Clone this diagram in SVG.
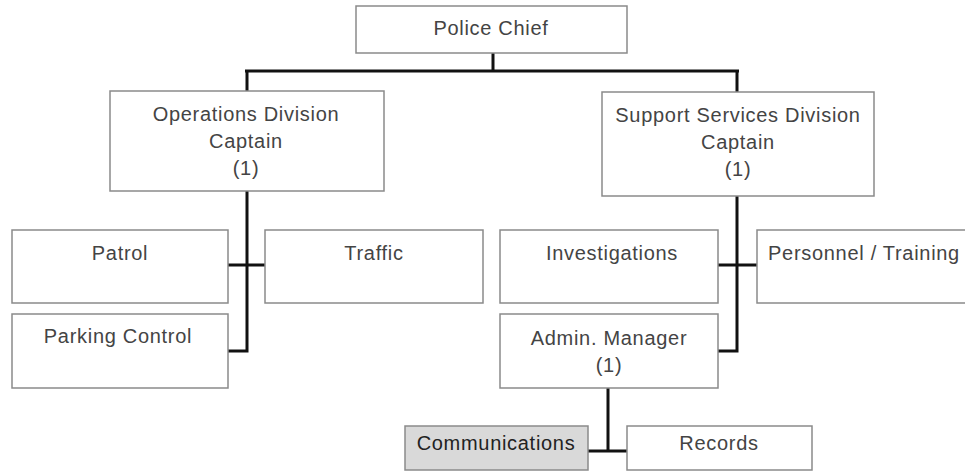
<svg xmlns="http://www.w3.org/2000/svg" width="965" height="472" viewBox="0 0 965 472">
<style>
.box{fill:#ffffff;stroke:#8a8a8a;stroke-width:1.5}
.gray{fill:#d9d9d9}
.t{font-family:"Liberation Sans",Arial,sans-serif;font-size:20px;letter-spacing:0.7px;fill:#444;text-anchor:middle}
.dark{fill:#222}
.c{fill:none;stroke:#111;stroke-width:3}
</style>
<rect width="965" height="472" fill="#ffffff"/>
<g id="connectors">
<path class="c" d="M493,53V71M245,71H739M247,71V91M737,71V92"/>
<path class="c" d="M247,191V351H228M228,265H265"/>
<path class="c" d="M737,196V351H718M718,265H757"/>
<path class="c" d="M608,388V451M588,451H627"/>
</g>
<g id="police-chief">
<rect class="box" x="356" y="6" width="271" height="47"/>
<text class="t" x="491" y="35">Police Chief</text>
</g>
<g id="operations">
<rect class="box" x="110" y="91" width="274" height="100"/>
<text class="t" x="246" y="121">Operations Division</text>
<text class="t" x="246" y="148">Captain</text>
<text class="t" x="246" y="175">(1)</text>
</g>
<g id="support">
<rect class="box" x="602" y="92" width="272" height="104"/>
<text class="t" x="738" y="122">Support Services Division</text>
<text class="t" x="738" y="149">Captain</text>
<text class="t" x="738" y="176">(1)</text>
</g>
<g id="patrol">
<rect class="box" x="12" y="230" width="216" height="73"/>
<text class="t" x="120" y="260">Patrol</text>
</g>
<g id="traffic">
<rect class="box" x="265" y="230" width="218" height="73"/>
<text class="t" x="374" y="260">Traffic</text>
</g>
<g id="parking-control">
<rect class="box" x="12" y="314" width="216" height="74"/>
<text class="t" x="118" y="343">Parking Control</text>
</g>
<g id="investigations">
<rect class="box" x="500" y="230" width="218" height="73"/>
<text class="t" x="612" y="260">Investigations</text>
</g>
<g id="personnel-training">
<rect class="box" x="757" y="230" width="220" height="73"/>
<text class="t" x="864" y="260">Personnel / Training</text>
</g>
<g id="admin-manager">
<rect class="box" x="500" y="314" width="218" height="74"/>
<text class="t" x="609" y="345">Admin. Manager</text>
<text class="t" x="609" y="372">(1)</text>
</g>
<g id="communications">
<rect class="box gray" x="405" y="426" width="183" height="44"/>
<text class="t dark" x="496" y="450">Communications</text>
</g>
<g id="records">
<rect class="box" x="627" y="426" width="185" height="44"/>
<text class="t" x="719" y="450">Records</text>
</g>
</svg>
